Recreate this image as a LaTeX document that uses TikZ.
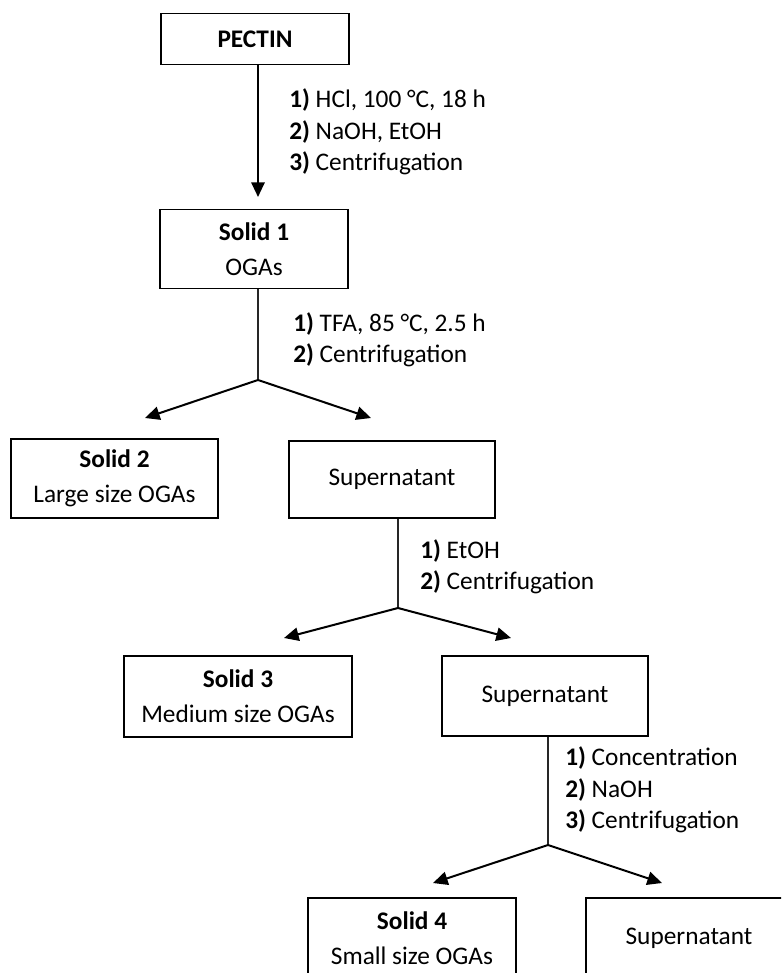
\documentclass[tikz,border=0pt]{standalone}
\usepackage{fontspec}
\setmainfont{Carlito}
\usetikzlibrary{arrows.meta}
\begin{document}
\begin{tikzpicture}[x=0.75pt,y=-0.75pt,
  font=\fontsize{19}{23.5}\selectfont,
  box/.style={draw=black,line width=1.1pt,inner sep=0pt,align=center},
  arr/.style={line width=1.5pt,-{Triangle[length=11pt,width=10pt]}},
  stem/.style={line width=0.8pt,draw=black!85},
  lbl/.style={anchor=west,inner sep=0pt,align=left}]
\useasboundingbox (0,0) rectangle (781,973);
\clip (0,0) rectangle (781,973);
% boxes
\node[box,minimum width=141pt,minimum height=38pt] (pectin) at (255,39) {\textbf{PECTIN}};
\node[box,minimum width=141pt,minimum height=59.5pt] (solid1) at (254,249) {\textbf{Solid 1}\\[3pt]OGAs};
\node[box,minimum width=155pt,minimum height=59pt] (solid2) at (114.5,478.5) {\textbf{Solid 2}\\[3pt]Large size OGAs};
\node[box,minimum width=154.5pt,minimum height=58pt] (sup1) at (392,479.5) {Supernatant};
\node[box,minimum width=171pt,minimum height=60.5pt] (solid3) at (238,696.5) {\textbf{Solid 3}\\[3pt]Medium size OGAs};
\node[box,minimum width=154.5pt,minimum height=60pt] (sup2) at (545,696) {Supernatant};
\node[box,minimum width=156pt,minimum height=60pt] (solid4) at (412,938) {\textbf{Solid 4}\\[3pt]Small size OGAs};
\node[box,minimum width=154.5pt,minimum height=60pt] (sup3) at (689,938) {Supernatant};
% junctions and arrow ends
\coordinate (p1) at (258,197);
\coordinate (j1) at (258,380);
\coordinate (a1l) at (145,418);
\coordinate (a1r) at (371,418);
\coordinate (j2) at (398,608);
\coordinate (a2l) at (284,638);
\coordinate (a2r) at (511,638);
\coordinate (j3) at (548,845);
\coordinate (a3l) at (433,883);
\coordinate (a3r) at (662,883);
% connectors
\draw[arr] (pectin.south -| p1) -- (p1);
\draw[stem] (solid1.south -| j1) -- (j1);
\draw[arr] (j1) -- (a1l);
\draw[arr] (j1) -- (a1r);
\draw[stem] (sup1.south -| j2) -- (j2);
\draw[arr] (j2) -- (a2l);
\draw[arr] (j2) -- (a2r);
\draw[stem] (sup2.south -| j3) -- (j3);
\draw[arr] (j3) -- (a3l);
\draw[arr] (j3) -- (a3r);
% labels
\node[lbl] (l1) at (289,132) {\textbf{1)} HCl, 100 °C, 18 h\\\textbf{2)} NaOH, EtOH\\\textbf{3)} Centrifugation};
\node[lbl] (l2) at (293,340) {\textbf{1)} TFA, 85 °C, 2.5 h\\\textbf{2)} Centrifugation};
\node[lbl] (l3) at (420,567) {\textbf{1)} EtOH\\\textbf{2)} Centrifugation};
\node[lbl] (l4) at (565,790) {\textbf{1)} Concentration\\\textbf{2)} NaOH\\\textbf{3)} Centrifugation};
\end{tikzpicture}
\end{document}
